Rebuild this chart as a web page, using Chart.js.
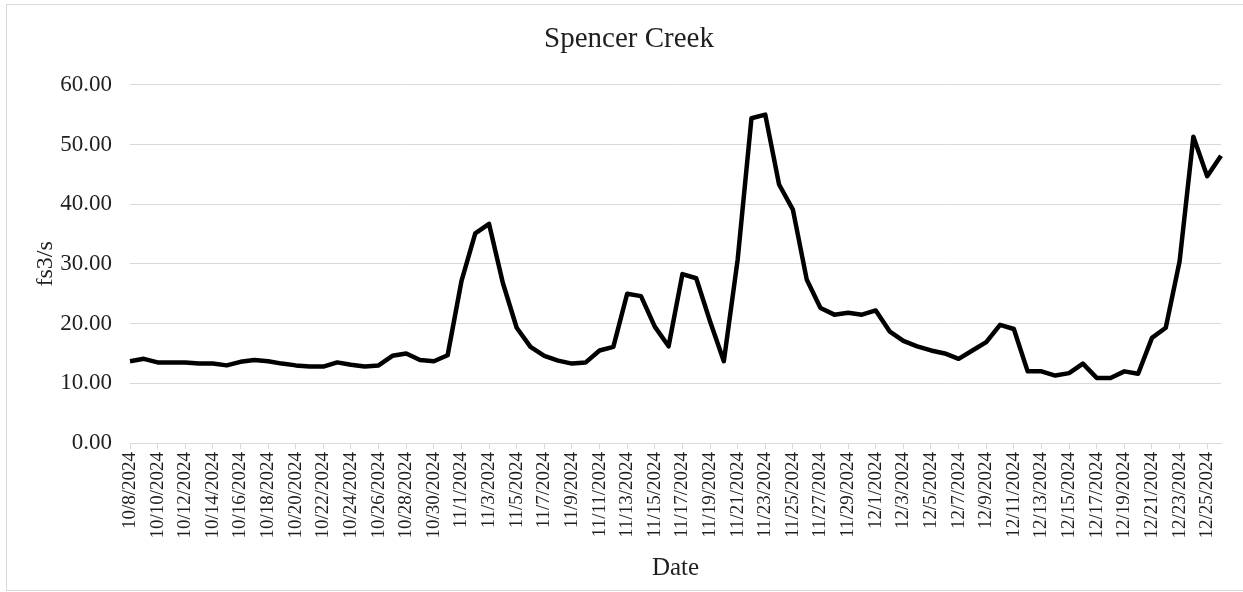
<!DOCTYPE html>
<html>
<head>
<meta charset="utf-8">
<script src="https://cdn.jsdelivr.net/npm/chart.js@4"></script>
<style>
  html, body { margin: 0; padding: 0; background: #fff; overflow: hidden; }
  #wrap { position: absolute; left: 0; top: 0; width: 1260px; height: 592px; }
</style>
</head>
<body>
<div id="wrap"><canvas id="myChart"></canvas></div>
<script>
  // dates, one reading a day
  const dates = [
    '10/8/2024', '10/9/2024', '10/10/2024', '10/11/2024', '10/12/2024', '10/13/2024', '10/14/2024', '10/15/2024',
    '10/16/2024', '10/17/2024', '10/18/2024', '10/19/2024', '10/20/2024', '10/21/2024', '10/22/2024', '10/23/2024',
    '10/24/2024', '10/25/2024', '10/26/2024', '10/27/2024', '10/28/2024', '10/29/2024', '10/30/2024', '10/31/2024',
    '11/1/2024', '11/2/2024', '11/3/2024', '11/4/2024', '11/5/2024', '11/6/2024', '11/7/2024', '11/8/2024',
    '11/9/2024', '11/10/2024', '11/11/2024', '11/12/2024', '11/13/2024', '11/14/2024', '11/15/2024', '11/16/2024',
    '11/17/2024', '11/18/2024', '11/19/2024', '11/20/2024', '11/21/2024', '11/22/2024', '11/23/2024', '11/24/2024',
    '11/25/2024', '11/26/2024', '11/27/2024', '11/28/2024', '11/29/2024', '11/30/2024',
    '12/1/2024', '12/2/2024', '12/3/2024', '12/4/2024', '12/5/2024', '12/6/2024', '12/7/2024', '12/8/2024',
    '12/9/2024', '12/10/2024', '12/11/2024', '12/12/2024', '12/13/2024', '12/14/2024', '12/15/2024', '12/16/2024',
    '12/17/2024', '12/18/2024', '12/19/2024', '12/20/2024', '12/21/2024', '12/22/2024', '12/23/2024', '12/24/2024',
    '12/25/2024', '12/26/2024'
  ];

  // flow, fs3/s
  const flowOct = [
    13.7, 14.1, 13.5, 13.5, 13.5, 13.3, 13.3, 13.0, 13.6, 13.9, 13.7, 13.3,
    13.0, 12.8, 12.8, 13.5, 13.1, 12.8, 13.0, 14.6, 15.0, 13.9, 13.7, 14.7
  ];
  const flowNov = [
    27.1, 35.1, 36.7, 26.8, 19.3, 16.1, 14.6, 13.8, 13.3, 13.5, 15.5, 16.1,
    25.0, 24.6, 19.5, 16.2, 28.3, 27.6, 20.4, 13.7, 30.7, 54.4, 55.0, 43.3,
    39.1, 27.4, 22.6, 21.5, 21.8, 21.5
  ];
  const flowDec = [
    22.2, 18.7, 17.1, 16.2, 15.5, 15.0, 14.1, 15.5, 16.9, 19.8, 19.1, 12.0,
    12.0, 11.3, 11.7, 13.3, 10.9, 10.9, 12.0, 11.6, 17.6, 19.3, 30.4, 51.3,
    44.7, 48.1
  ];

  const yTicks = [0, 10, 20, 30, 40, 50, 60];

  const serif = '"Liberation Serif", "Times New Roman", serif';
  const textColor = '#1f1f1f';
  const gridColor = '#d9d9d9';

  // thin frame round the chart, like the exported picture
  const framePlugin = {
    id: 'frame',
    beforeDraw(chart) {
      const c = chart.ctx;
      c.save();
      c.fillStyle = '#fff';
      c.fillRect(0, 0, chart.width, chart.height);
      c.strokeStyle = gridColor;
      c.lineWidth = 1;
      c.strokeRect(6.5, 4.5, 1300, 586);
      c.restore();
    }
  };

  const ctx = document.getElementById('myChart').getContext('2d');
  const myChart = new Chart(ctx, {
    type: 'line',
    data: {
      labels: dates,
      datasets: [
        {
          label: 'Spencer Creek',
          data: [...flowOct, ...flowNov, ...flowDec],
          borderColor: '#000',
          borderWidth: 4.5,
          borderJoinStyle: 'round',
          pointRadius: 0,
          tension: 0,
          fill: false,
        },
      ],
    },
    options: {
      responsive: true,
      maintainAspectRatio: false,
      animation: false,
      layout: { padding: { left: 37, right: 39, top: 0, bottom: 0 } },
      plugins: {
        legend: { display: false },
        tooltip: { enabled: false },
        title: {
          display: true,
          text: 'Spencer Creek',
          color: textColor,
          font: { family: serif, size: 29, weight: 'normal' },
          padding: { top: 22, bottom: 28 },
        },
      },
      scales: {
        x: {
          offset: false,
          afterFit: (scale) => { scale.height = 149; },
          grid: {
            drawOnChartArea: false,
            drawTicks: true,
            tickLength: 6,
            color: (c) => (c.index % 2 === 0 ? gridColor : 'rgba(0,0,0,0)'),
          },
          border: { display: true, color: gridColor },
          ticks: {
            autoSkip: false,
            maxRotation: 90,
            minRotation: 90,
            padding: 3,
            color: textColor,
            font: { family: serif, size: 19 },
            callback: (v, i) => (i % 2 === 0 ? dates[i] : ''),
          },
          title: {
            display: true,
            text: 'Date',
            color: textColor,
            font: { family: serif, size: 25 },
            padding: { top: 0, bottom: 9 },
          },
        },
        y: {
          min: yTicks[0],
          max: yTicks[yTicks.length - 1],
          afterFit: (scale) => { scale.width = 93; },
          afterBuildTicks: (scale) => { scale.ticks = yTicks.map((v) => ({ value: v })); },
          grid: { color: gridColor, drawTicks: false, lineWidth: 1 },
          border: { display: false },
          ticks: {
            padding: 18,
            color: textColor,
            font: { family: serif, size: 23 },
            callback: (v) => Number(v).toFixed(2),
          },
          title: {
            display: true,
            text: 'fs3/s',
            color: textColor,
            font: { family: serif, size: 24 },
            padding: { top: -6, bottom: 0 },
          },
        },
      },
    },
    plugins: [framePlugin],
  });
</script>
</body>
</html>
